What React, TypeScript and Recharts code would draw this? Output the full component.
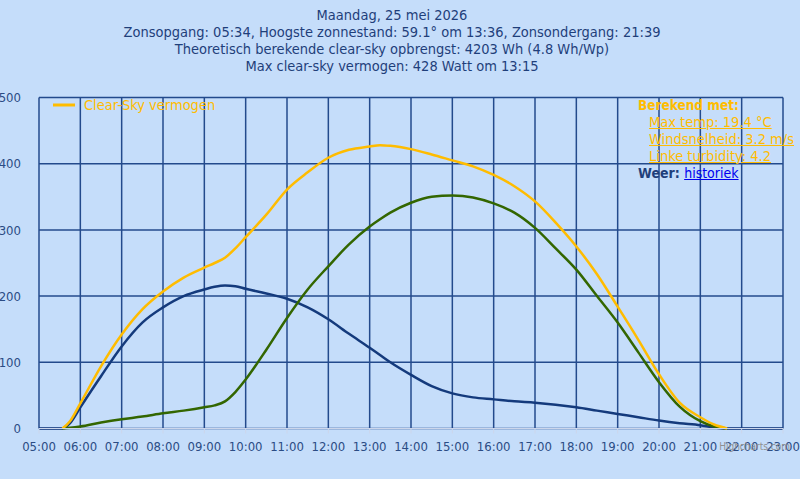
import React from "react";
import { LineChart, Line, XAxis, YAxis, CartesianGrid, Legend } from "recharts";

// Time of day in decimal hours
const times = [
  5, 5.567, 5.75, 6, 6.5, 7, 7.5, 8, 8.5, 9, 9.25, 9.5, 9.75, 10, 10.5, 11, 11.5, 12, 12.5, 13,
  13.25, 13.5, 14, 14.5, 15, 15.5, 16, 16.5, 17, 17.5, 18, 18.5, 19, 19.5, 20, 20.5, 21, 21.33,
  21.65, 23,
];

const clearSky = [
  null, 0, 11, 38, 94, 142, 180, 207, 228, 243, 250, 258, 272, 289, 323, 361, 387, 409, 421, 426,
  428, 427, 422, 414, 405, 396, 383, 366, 343, 311, 275, 233, 184, 134, 82, 39, 17, 6, 0, null,
];

const actueel = [
  0, 0, 8, 32, 79, 124, 160, 183, 200, 210, 214, 216, 215, 211, 204, 196, 183, 165, 143, 122,
  111, 100, 81, 64, 53, 47, 44, 41, 39, 36, 32, 27, 22, 17, 12, 8, 5, 1.5, 0, 0,
];

const verwacht = [
  null, 0, 1, 3, 9, 14, 18, 23, 27, 32, 35, 41, 55, 74, 119, 167, 210, 245, 278, 305, 316, 326,
  341, 350, 352, 349, 340, 326, 303, 272, 240, 200, 160, 115, 70, 33, 11, 3, 0, null,
];

const hourTicks = [5, 6, 7, 8, 9, 10, 11, 12, 13, 14, 15, 16, 17, 18, 19, 20, 21, 22, 23];
const wattTicks = [0, 100, 200, 300, 400, 500];

const titleLines = [
  "Maandag, 25 mei 2026",
  "Zonsopgang: 05:34, Hoogste zonnestand: 59.1° om 13:36, Zonsondergang: 21:39",
  "Theoretisch berekende clear-sky opbrengst: 4203 Wh (4.8 Wh/Wp)",
  "Max clear-sky vermogen: 428 Watt om 13:15",
];

const settings = ["Max temp: 19.4 °C", "Windsnelheid: 3.2 m/s", "Linke turbidity: 4.2"];

const data = times.map((t, i) => ({
  t,
  clear: clearSky[i],
  actueel: actueel[i],
  verwacht: verwacht[i],
}));

const FONT = "'DejaVu Sans Condensed', 'Liberation Sans Narrow', 'Liberation Sans', sans-serif";
const NAVY = "#1f3f7a";
const GRID = "#234a8c";
const YELLOW = "#ffbc00";
const BLUE = "#143a7c";
const GREEN = "#336600";

const pad = (h: number) => (h < 10 ? `0${h}` : `${h}`) + ":00";

const LegendBox = () => (
  <div style={{ display: "flex", alignItems: "center", fontFamily: FONT, fontSize: 14.5 }}>
    <svg width={26} height={10}>
      <line x1={0} y1={5} x2={22} y2={5} stroke={YELLOW} strokeWidth={3} />
    </svg>
    <span style={{ color: YELLOW, marginLeft: 5 }}>Clear-Sky vermogen</span>
  </div>
);

export default function App() {
  return (
    <div
      style={{
        position: "fixed",
        left: 0,
        top: 0,
        width: 800,
        height: 479,
        background: "#c5ddfa",
        fontFamily: FONT,
        overflow: "hidden",
      }}
    >
      <div
        style={{
          position: "absolute",
          top: 6.5,
          left: 0,
          width: 784,
          textAlign: "center",
          color: NAVY,
          fontSize: 14.5,
          lineHeight: "17px",
          zIndex: 2,
        }}
      >
        {titleLines.map((l) => (
          <div key={l}>{l}</div>
        ))}
      </div>

      <LineChart
        width={800}
        height={479}
        data={data}
        margin={{ top: 97.5, right: 17, bottom: 20.5, left: 0 }}
      >
        <CartesianGrid stroke={GRID} strokeWidth={1.5} />
        <XAxis
          type="number"
          dataKey="t"
          domain={[5, 23]}
          ticks={hourTicks}
          tickFormatter={pad}
          interval={0}
          height={30}
          axisLine={{ stroke: "#ccd6eb" }}
          tickLine={{ stroke: "#ccd6eb" }}
          tickSize={5}
          tickMargin={8}
          tick={{ fontSize: 13, fill: "#2b4c84", fontFamily: FONT }}
        />
        <YAxis
          domain={[0, 500]}
          ticks={wattTicks}
          width={39}
          axisLine={false}
          tickLine={false}
          tickMargin={12}
          tick={{ fontSize: 13, fill: "#2b4c84", fontFamily: FONT }}
        />
        <Legend
          layout="horizontal"
          verticalAlign="middle"
          align="center"
          content={() => <LegendBox />}
          wrapperStyle={{ top: 97, left: 53, width: "auto" }}
        />
        <Line
          type="monotone"
          dataKey="actueel"
          stroke={BLUE}
          strokeWidth={2.5}
          dot={false}
          legendType="none"
          isAnimationActive={false}
        />
        <Line
          type="monotone"
          dataKey="verwacht"
          stroke={GREEN}
          strokeWidth={2.5}
          dot={false}
          legendType="none"
          isAnimationActive={false}
        />
        <Line
          type="monotone"
          dataKey="clear"
          name="Clear-Sky vermogen"
          stroke={YELLOW}
          strokeWidth={2.5}
          dot={false}
          isAnimationActive={false}
        />
      </LineChart>

      <div
        style={{
          position: "absolute",
          top: 96.5,
          left: 638,
          fontSize: 14.5,
          lineHeight: "17px",
          zIndex: 2,
        }}
      >
        <div style={{ color: YELLOW, fontWeight: "bold", fontSize: 13.5 }}>Berekend met:</div>
        {settings.map((s) => (
          <div key={s} style={{ color: YELLOW, textDecoration: "underline", paddingLeft: 11 }}>
            {s}
          </div>
        ))}
        <div style={{ color: NAVY, fontWeight: "bold", fontSize: 14 }}>
          Weer:{" "}
          <a href="#" style={{ color: "#0000ee", fontWeight: "normal" }}>
            historiek
          </a>
        </div>
      </div>

      <div
        style={{
          position: "absolute",
          right: 10,
          top: 441,
          fontSize: 10,
          color: "#909090",
          zIndex: 2,
        }}
      >
        Highcharts.com
      </div>
    </div>
  );
}
